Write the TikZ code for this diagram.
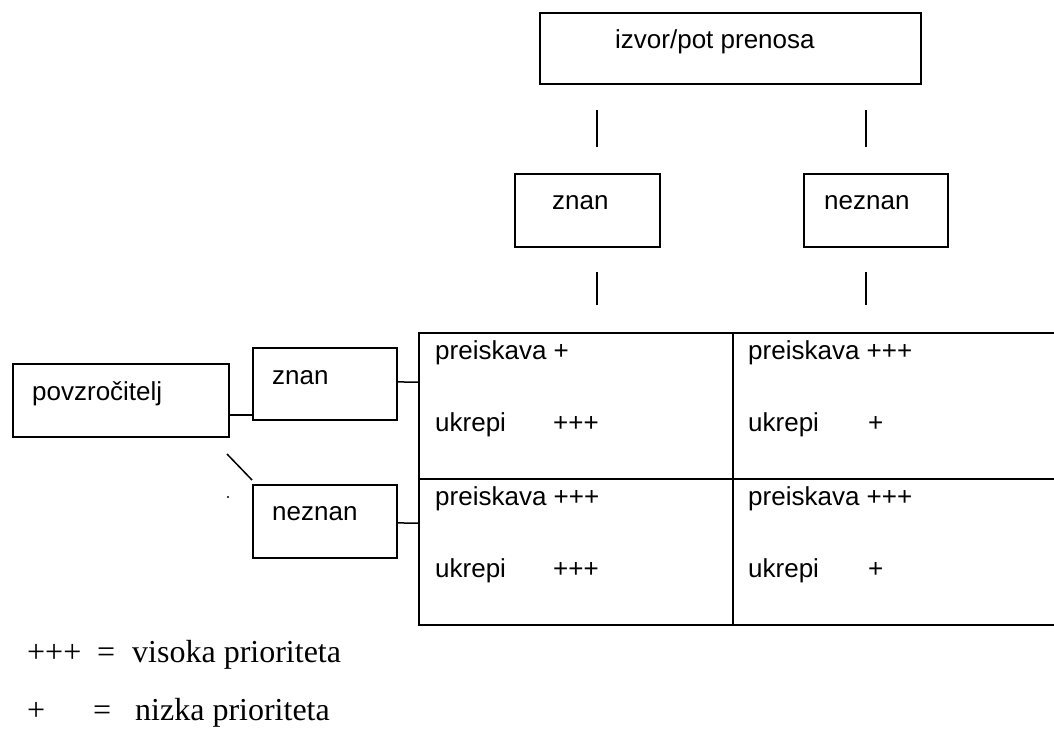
\documentclass[tikz,border=0pt]{standalone}
\usepackage{fontspec}
\setmainfont{Liberation Sans}
\newfontfamily\legendfont{Liberation Serif}
\begin{document}
\begin{tikzpicture}[x=1pt,y=-1pt,
  box/.style={draw,line width=1.8pt,inner sep=0pt,anchor=north west},
  cell/.style={draw,line width=2.4pt,inner sep=0pt,anchor=north west,minimum height=146pt},
  lbl/.style={anchor=base west,inner sep=0pt,font=\fontsize{26}{30}\selectfont},
  leg/.style={anchor=base west,inner sep=0pt,font=\legendfont\fontsize{32}{36}\selectfont},
  conn/.style={line width=1.5pt}]
\useasboundingbox (0,0) rectangle (1054,742);
\clip (0,0) rectangle (1054,742);
% boxes
\node[box,minimum width=381pt,minimum height=71pt] (top) at (539,12) {};
\node[box,minimum width=145pt,minimum height=73pt] (tznan) at (514,173) {};
\node[box,minimum width=144pt,minimum height=73pt] (tneznan) at (803,173) {};
\node[box,minimum width=216pt,minimum height=73pt] (povz) at (12,363) {};
\node[box,minimum width=144pt,minimum height=72pt] (lznan) at (252,347) {};
\node[box,minimum width=144pt,minimum height=73pt] (lneznan) at (252,484) {};
% table cells
\node[cell,minimum width=314pt] (tl) at (418,332) {};
\node[cell,minimum width=340pt] (tr) at (732,332) {};
\node[cell,minimum width=314pt] (bl) at (418,478) {};
\node[cell,minimum width=340pt] (br) at (732,478) {};
% labels
\node[lbl] (ttop) at (615,48) {izvor/pot prenosa};
\node[lbl] (ttznan) at (552,209) {znan};
\node[lbl] (ttneznan) at (824,209) {neznan};
\node[lbl] (tpovz) at (32,400) {povzročitelj};
\node[lbl] (tlznan) at (272,384) {znan};
\node[lbl] (tlneznan) at (272,520) {neznan};
\node[lbl] (c1a) at (435,359) {preiskava +};
\node[lbl] (c1b) at (435,431) {ukrepi};
\node[lbl] (c1c) at (553,431) {+++};
\node[lbl] (c2a) at (748,359) {preiskava +++};
\node[lbl] (c2b) at (748,431) {ukrepi};
\node[lbl] (c2c) at (868,431) {+};
\node[lbl] (c3a) at (435,505) {preiskava +++};
\node[lbl] (c3b) at (435,577) {ukrepi};
\node[lbl] (c3c) at (553,577) {+++};
\node[lbl] (c4a) at (748,505) {preiskava +++};
\node[lbl] (c4b) at (748,577) {ukrepi};
\node[lbl] (c4c) at (868,577) {+};
% legend
\node[leg] (l1a) at (27,662) {+++};
\node[leg] (l1b) at (97,662) {=};
\node[leg] (l1c) at (132,662) {visoka prioriteta};
\node[leg] (l2a) at (27,720) {+};
\node[leg] (l2b) at (93,720) {=};
\node[leg] (l2c) at (135,720) {nizka prioriteta};
% free line ends
\coordinate (v1a) at (597,110); \coordinate (v1b) at (597,147);
\coordinate (v2a) at (866,110); \coordinate (v2b) at (866,147);
\coordinate (v3a) at (597,272); \coordinate (v3b) at (597,305);
\coordinate (v4a) at (866,272); \coordinate (v4b) at (866,305);
\coordinate (d1) at (227,454); \coordinate (d2) at (252,480);
\draw[conn] (v1a) -- (v1b);
\draw[conn] (v2a) -- (v2b);
\draw[conn] (v3a) -- (v3b);
\draw[conn] (v4a) -- (v4b);
\draw[conn] (d1) -- (d2);
\draw[conn] ([yshift=-14.5pt]povz.east) -- ([yshift=-31pt]lznan.west);
\draw[conn] ([yshift=2pt]lznan.east) -- ([yshift=24pt]tl.west);
\draw[conn] ([yshift=-1.5pt]lneznan.east) -- ([yshift=29pt]bl.west);
\fill (228,497) circle (1.1pt);
\end{tikzpicture}
\end{document}
